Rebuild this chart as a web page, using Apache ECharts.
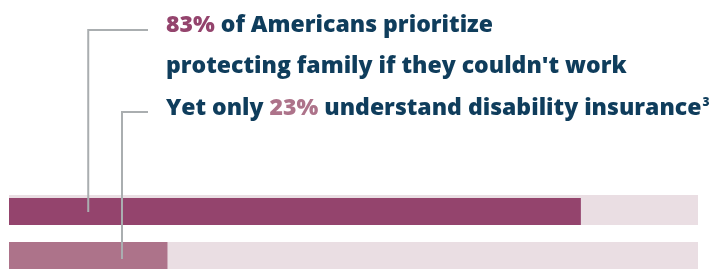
<!DOCTYPE html>
<html>
<head>
<meta charset="utf-8">
<script src="https://cdn.jsdelivr.net/npm/echarts@6/dist/echarts.min.js"></script>
<style>
  html, body { margin: 0; padding: 0; background: #fff; }
  #chart { width: 716px; height: 269px; }
</style>
</head>
<body>
<div id="chart"></div>
<script>
// data
const seriesNames = ["Prioritize protecting family", "Understand disability insurance"];
const values = [83, 23];
const barColors = ["#94446D", "#AD738A"];
// where the leader lines hit each bar (value axis units)
const leaderAt = [11.5, 16.4];
const leaderY = [30, 112];

const navy = "#0F3D5C";
const font = "Open Sans";

const chart = echarts.init(document.getElementById("chart"));

chart.setOption({
  animation: false,
  grid: { left: 9, right: 18, top: 198, bottom: 0, containLabel: false },
  xAxis: { type: "value", min: 0, max: 100, show: false },
  yAxis: { type: "category", data: [""], inverse: true, show: false },
  series: values.map((v, i) => ({
    type: "bar",
    name: seriesNames[i],
    barWidth: 30,
    barGap: "57%",
    data: [v],
    itemStyle: { color: barColors[i] },
    showBackground: true,
    backgroundStyle: { color: "#EADEE3" }
  }))
});

// headline text
const base = { fontFamily: font, fontWeight: 800, fontSize: 23 };
const graphics = [
  {
    type: "text", left: 166, top: 14,
    style: {
      text: "{p|83%} of Americans prioritize",
      fill: navy, ...base,
      rich: { p: { fill: barColors[0], ...base } }
    }
  },
  {
    type: "text", left: 166, top: 55,
    style: { text: "protecting family if they couldn't work", fill: navy, ...base }
  },
  {
    type: "text", left: 166, top: 97,
    style: {
      text: "Yet only {q|23%} understand disability insurance{s|3}",
      fill: navy, ...base,
      rich: {
        q: { fill: barColors[1], ...base },
        s: { fill: navy, fontFamily: font, fontWeight: 800, fontSize: 12, verticalAlign: "top", padding: [0, 0, 10, 1] }
      }
    }
  }
];

// leader lines from the text down into the bars, drawn above the bars
values.forEach((v, i) => {
  const layout = chart.getModel().getSeriesByIndex(i).getData().getItemLayout(0);
  const x = chart.convertToPixel({ gridIndex: 0 }, [leaderAt[i], 0])[0];
  const yEnd = layout.y + layout.height / 2 + 2;
  graphics.push({
    type: "polyline",
    silent: true,
    z: 100,
    shape: { points: [[148, leaderY[i]], [x, leaderY[i]], [x, yEnd]] },
    style: { stroke: "#AAAEB0", lineWidth: 2, fill: null }
  });
});

chart.setOption({ graphic: graphics });
</script>
</body>
</html>
